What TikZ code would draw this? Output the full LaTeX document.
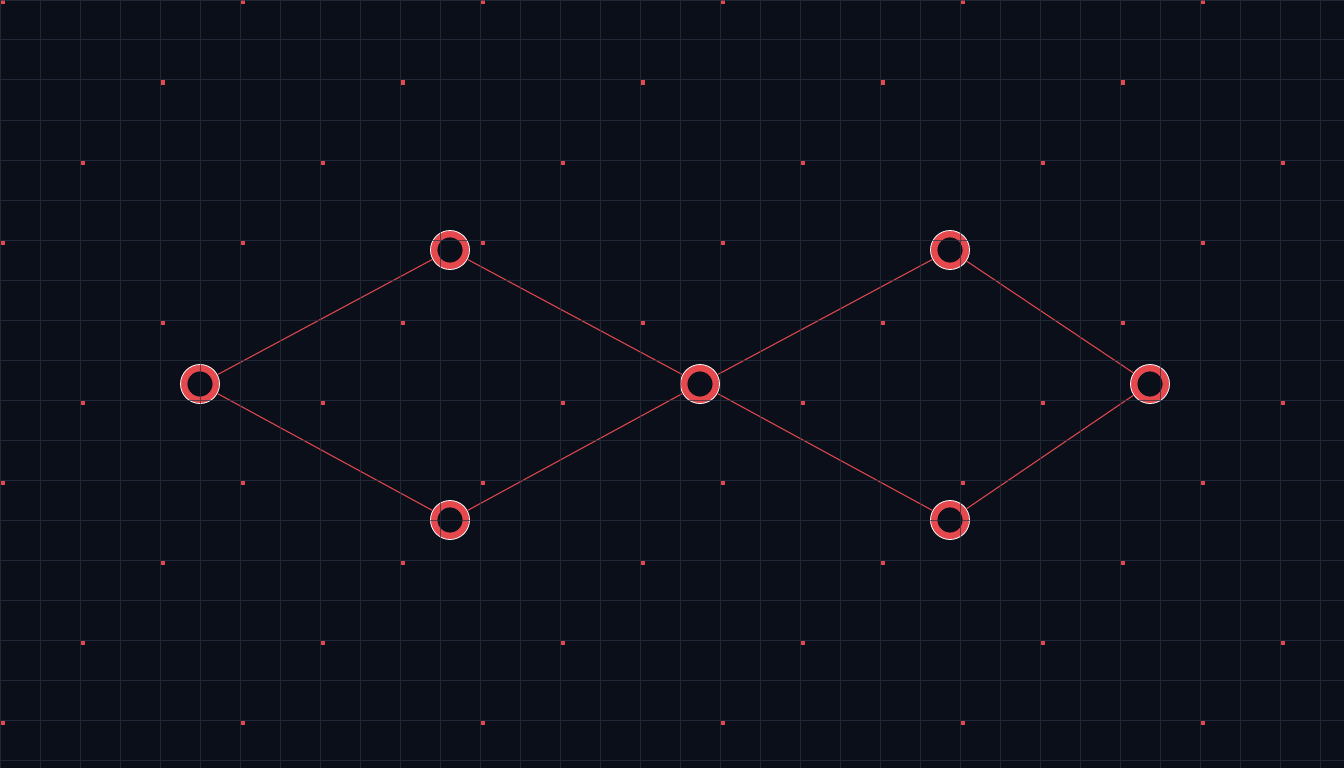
\documentclass[tikz,border=0pt]{standalone}
\usepackage{tikz}

\definecolor{bgcol}{HTML}{0B0F1A}
\definecolor{gridcol}{HTML}{2A3345}
\definecolor{ringred}{HTML}{E5484D}
\definecolor{linkred}{HTML}{D9474C}
\definecolor{dotred}{HTML}{E5484D}

\begin{document}
\begin{tikzpicture}[x=1pt,y=1pt]
	\tikzstyle{every node}+=[inner sep=0pt]
	\tikzstyle{ring}=[circle, minimum size=39pt, draw=white, line width=0.8pt,
		path picture={\draw [ringred, line width=6.8pt] (path picture bounding box.center) circle (16pt);}]
	\tikzstyle{link}=[linkred, line width=1.1pt]
	\tikzstyle{gridline}=[gridcol, opacity=0.7, line width=1pt]
	\useasboundingbox (0,0) rectangle (1344,-768);
	\clip (0,0) rectangle (1344,-768);
	\fill [bgcol] (0,0) rectangle (1344,-768);
	% dots
	\foreach \y in {0,80,...,720}
		\foreach \x in {0,80,...,1280} {
			\pgfmathtruncatemacro{\m}{mod(\x+\y,240)}
			\ifnum\m=0
				\fill [dotred] (\x+0.5,-\y-0.5) rectangle (\x+4.5,-\y-4.5);
			\fi
		}
	% nodes
	\node [ring] (left) at (200,-384) {};
	\node [ring] (up1) at (450,-250) {};
	\node [ring] (down1) at (450,-520) {};
	\node [ring] (mid) at (700,-384) {};
	\node [ring] (up2) at (950,-250) {};
	\node [ring] (down2) at (950,-520) {};
	\node [ring] (right) at (1150,-384) {};
	% links
	\draw [link] (left) -- (up1);
	\draw [link] (left) -- (down1);
	\draw [link] (up1) -- (mid);
	\draw [link] (down1) -- (mid);
	\draw [link] (mid) -- (up2);
	\draw [link] (mid) -- (down2);
	\draw [link] (up2) -- (right);
	\draw [link] (down2) -- (right);
	% grid
	\draw [gridline] (0,-768) grid [step=40] (1344,0);
\end{tikzpicture}
\end{document}
